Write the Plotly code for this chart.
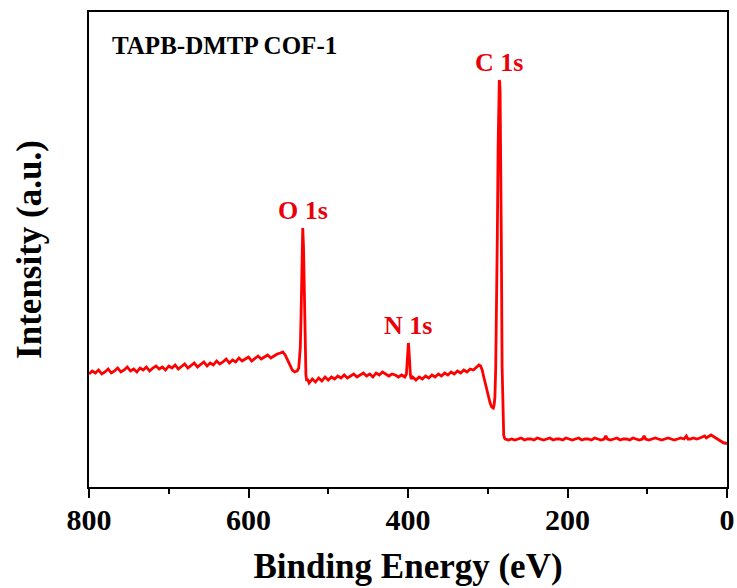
import plotly.graph_objects as go

# XPS survey spectrum of TAPB-DMTP COF-1 (binding energy in eV, intensity in a.u.)
energy = [
    800, 796, 792, 788, 784, 780, 776, 772, 768, 764, 760, 756, 752, 748, 744, 740,
    736, 732, 728, 724, 720, 716, 712, 708, 704, 700, 696, 692, 688, 684, 680, 676,
    672, 668, 664, 660, 656, 652, 648, 644, 640, 636, 632, 628, 624, 620, 616, 612,
    608, 604, 600, 596, 592, 588, 584, 580, 576, 572, 568, 564, 560, 557, 554, 551,
    548, 545, 542, 539, 537, 535, 534, 533, 532, 531, 530, 529, 528, 527, 526, 524,
    520, 516, 512, 508, 504, 500, 496, 492, 488, 484, 480, 476, 472, 468, 464, 460,
    456, 452, 448, 444, 440, 436, 432, 428, 424, 420, 416, 412, 408, 404, 402, 401,
    400, 399.5, 399, 398, 397, 396, 394, 390, 386, 382, 378, 374, 370, 366, 362, 358,
    354, 350, 346, 342, 338, 334, 330, 326, 322, 318, 314, 311, 309, 307, 305, 303,
    301, 299, 297, 295, 293, 292, 291, 290, 289, 288, 287, 286, 285.5, 285, 284.5, 284,
    283, 282, 281, 280, 279, 278, 274, 270, 266, 262, 258, 254, 250, 246, 242, 238,
    234, 230, 226, 222, 218, 214, 210, 206, 202, 198, 194, 190, 186, 182, 178, 174,
    170, 166, 162, 158, 154, 152, 150, 146, 142, 138, 134, 130, 126, 122, 118, 114,
    110, 106, 104, 102, 98, 94, 90, 86, 82, 78, 74, 70, 66, 62, 58, 54,
    51, 49, 46, 42, 38, 34, 30, 28, 26, 24, 22, 20, 18, 16, 14, 12,
    10, 8, 6, 4, 2, 0,
]
intensity = [
    113, 116, 114, 117, 113, 115, 118, 114, 116, 119, 115, 117, 120, 116, 118, 115,
    119, 117, 120, 116, 119, 121, 118, 120, 117, 121, 119, 122, 118, 121, 123, 119,
    122, 124, 120, 123, 125, 121, 124, 122, 126, 123, 125, 128, 124, 127, 125, 129,
    126, 128, 130, 126, 129, 131, 128, 130, 132, 129, 131, 133, 134, 135, 132, 127,
    121, 117, 115, 116, 119, 140, 175, 230, 259, 240, 185, 130, 112, 106, 108, 104,
    108, 105, 109, 106, 110, 107, 110, 108, 111, 109, 112, 109, 111, 113, 110, 112,
    114, 111, 113, 110, 114, 112, 115, 113, 111, 113, 112, 110, 112, 110, 113, 125,
    140, 144, 140, 124, 112, 108, 110, 107, 110, 108, 111, 109, 112, 110, 113, 111,
    114, 112, 115, 113, 116, 114, 117, 115, 118, 117, 120, 122, 121, 117, 110, 103,
    97, 90, 84, 80, 79, 82, 90, 120, 170, 250, 340, 395, 407, 405, 395, 360,
    250, 120, 65, 52, 49, 48, 47, 48, 47, 48, 49, 47, 48, 48, 47, 49,
    48, 47, 48, 49, 47, 48, 48, 47, 49, 48, 47, 48, 49, 47, 48, 48,
    47, 49, 48, 47, 48, 51, 48, 47, 48, 49, 47, 48, 48, 47, 49, 48,
    47, 48, 51, 48, 47, 48, 49, 48, 47, 48, 49, 48, 47, 48, 49, 48,
    51, 48, 48, 49, 48, 49, 50, 51, 49, 50, 51, 52, 51, 50, 49, 48,
    47, 46, 45, 44, 44, 43,
]

x_ticks = [800, 600, 400, 200, 0]
peak_labels = ["O 1s", "N 1s", "C 1s"]
peak_positions = [532, 399.5, 285.5]
peak_heights = [259, 144, 407]

FONT = "Liberation Serif"

fig = go.Figure()
fig.add_trace(go.Scatter(
    x=energy, y=intensity, mode="lines",
    line=dict(color="#ff0000", width=2.8),
    showlegend=False, hoverinfo="skip",
))

for label, pos, h in zip(peak_labels, peak_positions, peak_heights):
    fig.add_annotation(
        x=pos, y=h, text=label, showarrow=False, yanchor="bottom", yshift=1,
        font=dict(family=FONT, size=26, color="#e8000b", weight="bold"),
    )

fig.add_annotation(
    x=0.033, y=0.93, xref="paper", yref="paper", text="TAPB-DMTP COF-1",
    showarrow=False, xanchor="left", yanchor="middle",
    font=dict(family=FONT, size=25, color="black", weight="bold"),
)

fig.update_layout(
    width=737, height=588,
    margin=dict(l=89, r=10, t=12, b=101),
    paper_bgcolor="white", plot_bgcolor="white",
    font=dict(family=FONT, color="black"),
)
fig.update_xaxes(
    range=[800, 0], tickvals=x_ticks, ticks="outside", ticklen=9, tickwidth=2,
    tickcolor="black", showline=True, linewidth=2, linecolor="black", mirror=True,
    showgrid=False, zeroline=False, ticklabelstandoff=-4, automargin=False,
    tickfont=dict(family=FONT, size=30, color="black", weight="bold"),
    minor=dict(tickvals=[700, 500, 300, 100], ticks="outside", ticklen=5,
               tickwidth=2, tickcolor="black"),
    title=dict(text="Binding Energy (eV)", standoff=18,
               font=dict(family=FONT, size=35, color="black", weight="bold")),
)
fig.update_yaxes(
    range=[0, 475], showticklabels=False, ticks="", showline=True, linewidth=2,
    linecolor="black", mirror=True, showgrid=False, zeroline=False, automargin=False,
    title=dict(text="Intensity (a.u.)", standoff=35,
               font=dict(family=FONT, size=35, color="black", weight="bold")),
)

fig.write_html("out.html")
